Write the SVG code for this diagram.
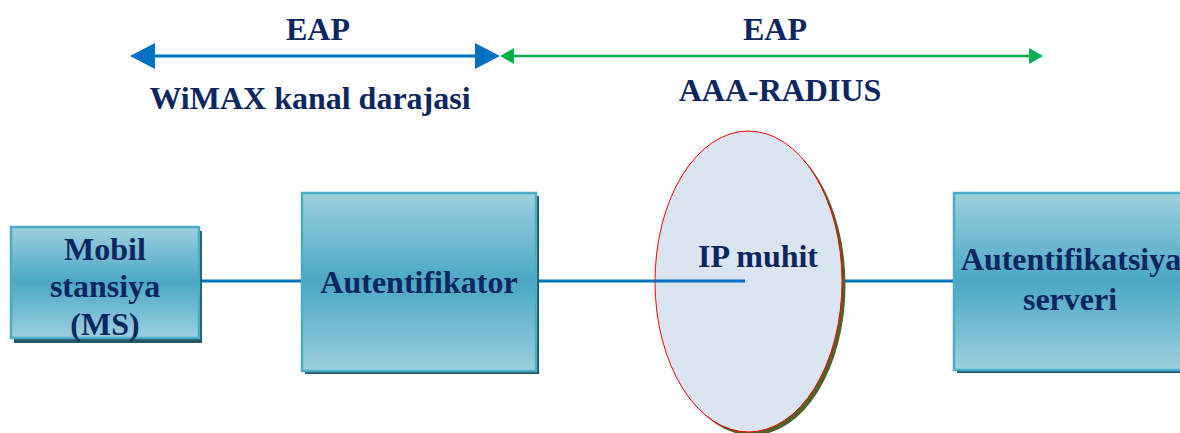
<svg xmlns="http://www.w3.org/2000/svg" width="1180" height="433" viewBox="0 0 1180 433">
<defs>
<linearGradient id="bg" x1="0" y1="0" x2="0" y2="1">
<stop offset="0" stop-color="#9dd0df"/>
<stop offset="0.5" stop-color="#4aa8c4"/>
<stop offset="1" stop-color="#9dd0df"/>
</linearGradient>
<marker id="bh" markerUnits="userSpaceOnUse" markerWidth="26" markerHeight="26" refX="15" refY="13" orient="auto-start-reverse">
<path d="M0,0 L25,13 L0,26 z" fill="#0070c0"/>
</marker>
<marker id="gh" markerUnits="userSpaceOnUse" markerWidth="15" markerHeight="16" refX="6" refY="8" orient="auto-start-reverse">
<path d="M0,0 L14,8 L0,16 z" fill="#00b050"/>
</marker>
<style>
text{font-family:'Liberation Serif','Times New Roman',serif;font-weight:700;font-size:32px;fill:#0c2660;text-anchor:middle}
.box{fill:url(#bg);stroke:#4bacc6;stroke-width:2.5}
.shadow{fill:#22596a}
.conn{stroke:#0070c0;stroke-width:3;fill:none}
</style>
</defs>
<g id="connectors">
<line x1="140" y1="56" x2="490" y2="56" stroke="#0070c0" stroke-width="3" marker-start="url(#bh)" marker-end="url(#bh)"/>
<line x1="508" y1="56" x2="1035" y2="56" stroke="#00b050" stroke-width="2.5" marker-start="url(#gh)" marker-end="url(#gh)"/>
<line class="conn" x1="199" y1="281" x2="303" y2="281"/>
<line class="conn" x1="536" y1="281" x2="745" y2="281"/>
<line class="conn" x1="842" y1="281" x2="955" y2="281"/>
</g>
<g id="labels">
<text x="318" y="40">EAP</text>
<text x="310" y="109">WiMAX kanal darajasi</text>
<text x="775" y="40">EAP</text>
<text x="780" y="101">AAA-RADIUS</text>
</g>
<g id="ms">
<rect class="shadow" x="14" y="231" width="188" height="112"/>
<rect class="box" x="11" y="227" width="188" height="111"/>
<text x="105" y="260">Mobil</text>
<text x="105" y="297">stansiya</text>
<text x="105" y="335">(MS)</text>
</g>
<g id="autentifikator">
<rect class="shadow" x="305" y="196" width="234" height="178"/>
<rect class="box" x="302" y="193" width="234" height="178"/>
<text x="419" y="293">Autentifikator</text>
</g>
<g id="ip">
<ellipse cx="752" cy="285" rx="93.5" ry="150.5" fill="#4f6228"/>
<ellipse cx="748.5" cy="281.5" rx="93.5" ry="150.5" fill="#dbe5f1" stroke="#ff0000" stroke-width="1"/>
<line class="conn" x1="655" y1="281" x2="745" y2="281"/>
<text x="758" y="267">IP muhit</text>
</g>
<g id="server">
<rect class="shadow" x="957" y="196" width="240" height="177"/>
<rect class="box" x="954" y="193" width="240" height="177"/>
<text x="1071" y="270">Autentifikatsiya</text>
<text x="1070" y="310">serveri</text>
</g>
</svg>
